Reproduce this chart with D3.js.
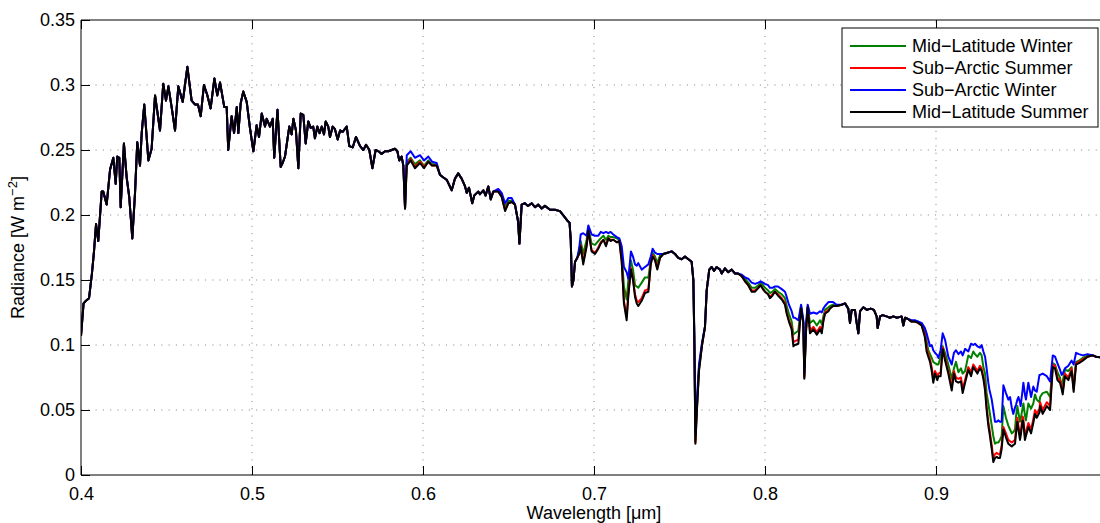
<!DOCTYPE html>
<html>
<head>
<meta charset="utf-8">
<script src="https://cdn.jsdelivr.net/npm/d3@7"></script>
<style>
  html, body { margin: 0; padding: 0; background: #fff; }
  svg { display: block; font-family: "Liberation Sans", Arial, Helvetica, sans-serif; }
</style>
</head>
<body>
<svg id="chart" width="1100" height="523"></svg>
<script>
// ---------- DATA ----------
const seriesNames = ["Mid\u2212Latitude Winter", "Sub\u2212Arctic Summer", "Sub\u2212Arctic Winter", "Mid\u2212Latitude Summer"];
const seriesColors = ["#008000", "#ff0000", "#0000ff", "#000000"];

const xTicks = [0.4, 0.5, 0.6, 0.7, 0.8, 0.9];
const xTickLabels = ["0.4", "0.5", "0.6", "0.7", "0.8", "0.9"];
const yTicks = [0, 0.05, 0.1, 0.15, 0.2, 0.25, 0.3, 0.35];
const yTickLabels = ["0", "0.05", "0.1", "0.15", "0.2", "0.25", "0.3", "0.35"];

// Segment A: wavelengths (µm) where all four atmospheres coincide
const wlA = [0.4000,0.4015,0.4029,0.4047,0.4064,0.4076,0.4088,0.4101,0.4121,0.4130,0.4150,0.4170,0.4189,0.4203,0.4212,0.4224,0.4232,0.4251,0.4267,0.4282,0.4300,0.4316,0.4329,0.4345,0.4355,0.4370,0.4394,0.4413,0.4433,0.4462,0.4481,0.4497,0.4511,0.4530,0.4550,0.4569,0.4595,0.4622,0.4647,0.4667,0.4684,0.4700,0.4719,0.4739,0.4758,0.4780,0.4797,0.4813,0.4838,0.4852,0.4861,0.4881,0.4895,0.4911,0.4920,0.4934,0.4949,0.4969,0.4988,0.5008,0.5027,0.5041,0.5057,0.5076,0.5086,0.5105,0.5121,0.5130,0.5149,0.5168,0.5179,0.5193,0.5218,0.5232,0.5242,0.5257,0.5271,0.5285,0.5300,0.5314,0.5329,0.5343,0.5358,0.5368,0.5382,0.5395,0.5408,0.5421,0.5431,0.5446,0.5456,0.5472,0.5485,0.5501,0.5515,0.5530,0.5554,0.5569,0.5589,0.5608,0.5632,0.5651,0.5667,0.5686,0.5704,0.5723,0.5740,0.5758,0.5778,0.5797,0.5817,0.5836,0.5850,0.5861,0.5875,0.5885,0.5895];
const radA = [0.107,0.132,0.134,0.136,0.155,0.172,0.193,0.180,0.218,0.218,0.208,0.235,0.244,0.224,0.245,0.244,0.206,0.255,0.229,0.214,0.182,0.217,0.256,0.238,0.263,0.285,0.242,0.251,0.292,0.265,0.301,0.288,0.299,0.283,0.265,0.299,0.287,0.314,0.288,0.285,0.285,0.276,0.300,0.292,0.282,0.305,0.292,0.302,0.283,0.283,0.250,0.276,0.263,0.283,0.263,0.286,0.295,0.287,0.267,0.249,0.269,0.260,0.278,0.268,0.274,0.268,0.274,0.244,0.281,0.237,0.240,0.245,0.268,0.262,0.274,0.265,0.236,0.278,0.277,0.255,0.272,0.267,0.268,0.259,0.268,0.263,0.268,0.262,0.272,0.268,0.260,0.268,0.266,0.258,0.265,0.264,0.268,0.253,0.252,0.260,0.253,0.250,0.254,0.250,0.236,0.250,0.249,0.247,0.249,0.249,0.250,0.251,0.249,0.242,0.245,0.238,0.205];

// Segment B: wavelengths (µm) where the atmospheres differ
const wlB = [0.5905,0.5928,0.5953,0.5982,0.6006,0.6031,0.6053,0.6080,0.6099,0.6117,0.6139,0.6168,0.6187,0.6206,0.6226,0.6246,0.6256,0.6269,0.6288,0.6300,0.6323,0.6333,0.6353,0.6366,0.6382,0.6396,0.6411,0.6440,0.6460,0.6480,0.6499,0.6519,0.6538,0.6556,0.6564,0.6577,0.6596,0.6614,0.6636,0.6655,0.6674,0.6694,0.6713,0.6743,0.6772,0.6801,0.6825,0.6842,0.6857,0.6864,0.6871,0.6880,0.6889,0.6902,0.6914,0.6922,0.6937,0.6957,0.6967,0.6986,0.7006,0.7025,0.7039,0.7055,0.7070,0.7084,0.7097,0.7113,0.7133,0.7148,0.7162,0.7175,0.7191,0.7201,0.7216,0.7228,0.7240,0.7250,0.7259,0.7279,0.7298,0.7318,0.7332,0.7343,0.7357,0.7370,0.7386,0.7405,0.7430,0.7454,0.7474,0.7493,0.7512,0.7532,0.7552,0.7571,0.7581,0.7587,0.7593,0.7602,0.7614,0.7632,0.7649,0.7659,0.7674,0.7688,0.7702,0.7717,0.7737,0.7747,0.7766,0.7784,0.7805,0.7825,0.7842,0.7864,0.7883,0.7902,0.7922,0.7942,0.7961,0.7975,0.7988,0.8000,0.8018,0.8029,0.8044,0.8058,0.8076,0.8098,0.8117,0.8127,0.8140,0.8156,0.8166,0.8175,0.8195,0.8211,0.8224,0.8230,0.8240,0.8250,0.8263,0.8283,0.8303,0.8322,0.8332,0.8341,0.8351,0.8371,0.8380,0.8398,0.8419,0.8448,0.8468,0.8487,0.8497,0.8507,0.8526,0.8536,0.8546,0.8556,0.8575,0.8596,0.8618,0.8637,0.8653,0.8659,0.8673,0.8688,0.8711,0.8731,0.8750,0.8772,0.8799,0.8809,0.8819,0.8836,0.8857,0.8877,0.8896,0.8916,0.8935,0.8945,0.8955,0.8965,0.8975,0.8984,0.8994,0.9008,0.9014,0.9027,0.9039,0.9053,0.9072,0.9092,0.9105,0.9117,0.9131,0.9146,0.9156,0.9170,0.9189,0.9205,0.9218,0.9228,0.9242,0.9257,0.9267,0.9277,0.9287,0.9296,0.9306,0.9312,0.9326,0.9335,0.9345,0.9355,0.9365,0.9374,0.9384,0.9394,0.9409,0.9423,0.9433,0.9443,0.9452,0.9462,0.9468,0.9476,0.9482,0.9491,0.9495,0.9507,0.9511,0.9520,0.9526,0.9540,0.9556,0.9569,0.9579,0.9589,0.9605,0.9609,0.9624,0.9648,0.9667,0.9683,0.9696,0.9710,0.9725,0.9735,0.9741,0.9754,0.9774,0.9793,0.9805,0.9819,0.9836,0.9858,0.9887,0.9917,0.9936,0.9995];

const mlsB = [0.238,0.242,0.236,0.240,0.236,0.241,0.238,0.238,0.231,0.229,0.227,0.219,0.228,0.232,0.228,0.222,0.217,0.221,0.209,0.215,0.218,0.216,0.219,0.215,0.222,0.212,0.218,0.218,0.214,0.203,0.209,0.210,0.208,0.195,0.178,0.208,0.209,0.207,0.209,0.206,0.208,0.205,0.207,0.204,0.204,0.203,0.199,0.196,0.194,0.181,0.145,0.150,0.164,0.167,0.170,0.176,0.162,0.176,0.188,0.172,0.170,0.174,0.178,0.181,0.176,0.182,0.180,0.181,0.179,0.180,0.164,0.132,0.119,0.138,0.158,0.150,0.137,0.132,0.130,0.134,0.140,0.141,0.162,0.168,0.165,0.158,0.167,0.170,0.171,0.172,0.170,0.167,0.166,0.168,0.166,0.164,0.150,0.100,0.024,0.050,0.080,0.100,0.114,0.142,0.158,0.160,0.157,0.160,0.158,0.155,0.159,0.156,0.158,0.155,0.155,0.153,0.149,0.146,0.141,0.141,0.144,0.146,0.143,0.141,0.139,0.136,0.138,0.141,0.138,0.135,0.131,0.124,0.118,0.112,0.099,0.100,0.101,0.128,0.117,0.074,0.110,0.129,0.109,0.112,0.108,0.112,0.109,0.118,0.124,0.126,0.128,0.130,0.130,0.131,0.132,0.128,0.117,0.127,0.127,0.117,0.109,0.126,0.129,0.127,0.128,0.127,0.122,0.113,0.122,0.123,0.122,0.121,0.122,0.121,0.122,0.115,0.121,0.120,0.118,0.118,0.117,0.115,0.106,0.095,0.091,0.087,0.080,0.071,0.078,0.073,0.076,0.076,0.097,0.088,0.078,0.065,0.078,0.072,0.071,0.072,0.063,0.071,0.081,0.076,0.083,0.081,0.078,0.082,0.080,0.074,0.065,0.050,0.038,0.033,0.020,0.010,0.013,0.014,0.013,0.013,0.020,0.035,0.029,0.024,0.023,0.022,0.023,0.024,0.032,0.041,0.035,0.027,0.030,0.042,0.040,0.027,0.030,0.037,0.032,0.040,0.047,0.044,0.048,0.053,0.047,0.053,0.050,0.083,0.082,0.073,0.071,0.066,0.062,0.076,0.073,0.080,0.064,0.085,0.086,0.088,0.091,0.092,0.091,0.090];

const sasB = [0.239,0.243,0.237,0.241,0.237,0.241,0.238,0.238,0.231,0.229,0.227,0.219,0.228,0.232,0.228,0.222,0.217,0.221,0.209,0.215,0.218,0.216,0.219,0.215,0.222,0.212,0.218,0.218,0.214,0.204,0.209,0.210,0.208,0.195,0.178,0.208,0.209,0.207,0.209,0.206,0.208,0.205,0.207,0.204,0.204,0.203,0.199,0.196,0.194,0.181,0.145,0.150,0.164,0.167,0.171,0.177,0.164,0.177,0.188,0.173,0.171,0.175,0.179,0.181,0.177,0.182,0.181,0.181,0.179,0.180,0.165,0.134,0.122,0.140,0.159,0.151,0.139,0.134,0.133,0.136,0.142,0.143,0.163,0.169,0.166,0.159,0.167,0.170,0.171,0.172,0.170,0.167,0.166,0.168,0.166,0.164,0.150,0.101,0.025,0.051,0.081,0.100,0.114,0.142,0.158,0.160,0.157,0.160,0.158,0.155,0.159,0.156,0.158,0.155,0.155,0.153,0.149,0.146,0.142,0.142,0.144,0.146,0.143,0.141,0.139,0.137,0.139,0.141,0.139,0.136,0.132,0.125,0.119,0.114,0.102,0.103,0.104,0.128,0.117,0.075,0.111,0.129,0.111,0.114,0.110,0.114,0.111,0.119,0.125,0.127,0.128,0.130,0.130,0.131,0.132,0.128,0.117,0.127,0.127,0.117,0.109,0.126,0.129,0.127,0.128,0.127,0.122,0.113,0.122,0.123,0.122,0.121,0.122,0.121,0.122,0.115,0.121,0.120,0.118,0.118,0.117,0.115,0.108,0.098,0.093,0.089,0.083,0.074,0.080,0.076,0.078,0.079,0.098,0.090,0.080,0.068,0.080,0.075,0.074,0.075,0.066,0.073,0.083,0.079,0.085,0.083,0.080,0.084,0.082,0.076,0.068,0.053,0.041,0.036,0.023,0.013,0.016,0.017,0.016,0.016,0.023,0.037,0.032,0.027,0.026,0.025,0.026,0.027,0.035,0.044,0.038,0.030,0.033,0.045,0.043,0.030,0.033,0.040,0.035,0.043,0.050,0.047,0.051,0.056,0.050,0.056,0.053,0.085,0.084,0.075,0.073,0.068,0.064,0.078,0.075,0.082,0.066,0.086,0.087,0.089,0.091,0.092,0.091,0.090];

const mlwB = [0.241,0.244,0.239,0.242,0.238,0.242,0.239,0.239,0.231,0.229,0.227,0.219,0.228,0.232,0.228,0.222,0.217,0.221,0.209,0.215,0.218,0.216,0.219,0.215,0.222,0.212,0.218,0.219,0.215,0.206,0.211,0.211,0.208,0.195,0.178,0.208,0.209,0.207,0.209,0.206,0.208,0.205,0.207,0.204,0.204,0.203,0.199,0.196,0.194,0.181,0.145,0.150,0.164,0.167,0.172,0.180,0.170,0.181,0.190,0.178,0.177,0.180,0.182,0.184,0.181,0.184,0.183,0.183,0.182,0.181,0.170,0.145,0.135,0.150,0.165,0.158,0.146,0.145,0.144,0.148,0.152,0.152,0.165,0.171,0.168,0.163,0.169,0.170,0.171,0.172,0.170,0.167,0.166,0.168,0.166,0.164,0.150,0.103,0.027,0.053,0.082,0.101,0.114,0.142,0.158,0.160,0.157,0.160,0.158,0.155,0.159,0.156,0.158,0.155,0.155,0.153,0.151,0.148,0.144,0.144,0.146,0.148,0.146,0.144,0.142,0.140,0.141,0.143,0.141,0.139,0.136,0.130,0.124,0.118,0.108,0.109,0.111,0.130,0.118,0.076,0.113,0.130,0.117,0.119,0.115,0.119,0.116,0.122,0.127,0.129,0.130,0.131,0.130,0.131,0.132,0.128,0.117,0.127,0.127,0.117,0.109,0.126,0.129,0.127,0.128,0.127,0.122,0.113,0.122,0.123,0.122,0.121,0.122,0.121,0.122,0.115,0.121,0.120,0.118,0.118,0.118,0.116,0.110,0.103,0.096,0.093,0.090,0.087,0.086,0.085,0.085,0.091,0.099,0.094,0.085,0.074,0.082,0.087,0.079,0.082,0.078,0.080,0.092,0.090,0.095,0.093,0.091,0.094,0.092,0.083,0.078,0.063,0.055,0.050,0.038,0.030,0.024,0.025,0.025,0.027,0.030,0.053,0.044,0.038,0.035,0.032,0.033,0.035,0.045,0.053,0.048,0.041,0.043,0.052,0.055,0.046,0.042,0.055,0.051,0.055,0.062,0.058,0.056,0.060,0.063,0.064,0.060,0.086,0.085,0.079,0.075,0.068,0.072,0.081,0.080,0.083,0.068,0.087,0.088,0.090,0.092,0.092,0.091,0.090];

const sawB = [0.246,0.249,0.244,0.246,0.242,0.245,0.241,0.240,0.231,0.229,0.227,0.219,0.228,0.232,0.228,0.222,0.217,0.221,0.209,0.215,0.218,0.216,0.219,0.215,0.222,0.212,0.218,0.220,0.217,0.209,0.213,0.213,0.208,0.195,0.178,0.208,0.209,0.207,0.209,0.206,0.208,0.205,0.207,0.204,0.204,0.203,0.199,0.196,0.194,0.181,0.145,0.150,0.164,0.167,0.175,0.185,0.186,0.184,0.192,0.185,0.184,0.184,0.187,0.186,0.187,0.186,0.187,0.185,0.183,0.182,0.176,0.160,0.156,0.151,0.172,0.168,0.162,0.161,0.163,0.158,0.160,0.162,0.168,0.174,0.171,0.170,0.170,0.170,0.171,0.172,0.170,0.167,0.166,0.168,0.166,0.164,0.150,0.108,0.032,0.058,0.085,0.102,0.114,0.142,0.158,0.160,0.157,0.160,0.158,0.155,0.159,0.156,0.158,0.155,0.155,0.154,0.152,0.151,0.148,0.147,0.148,0.149,0.148,0.147,0.146,0.144,0.144,0.145,0.145,0.143,0.141,0.137,0.131,0.126,0.121,0.121,0.119,0.131,0.119,0.078,0.117,0.131,0.124,0.125,0.124,0.126,0.125,0.128,0.130,0.133,0.133,0.133,0.131,0.131,0.132,0.128,0.117,0.127,0.127,0.117,0.109,0.126,0.129,0.127,0.128,0.127,0.122,0.113,0.122,0.123,0.122,0.121,0.122,0.121,0.122,0.115,0.121,0.120,0.119,0.119,0.118,0.117,0.113,0.109,0.104,0.099,0.100,0.096,0.094,0.092,0.090,0.096,0.109,0.104,0.091,0.085,0.094,0.096,0.093,0.095,0.092,0.097,0.095,0.101,0.100,0.101,0.099,0.098,0.100,0.095,0.091,0.082,0.071,0.066,0.058,0.050,0.041,0.041,0.042,0.041,0.041,0.069,0.063,0.058,0.060,0.052,0.047,0.052,0.054,0.058,0.060,0.056,0.053,0.066,0.071,0.062,0.058,0.071,0.060,0.068,0.065,0.064,0.077,0.077,0.078,0.076,0.072,0.092,0.091,0.086,0.081,0.077,0.078,0.082,0.084,0.088,0.085,0.094,0.093,0.092,0.093,0.092,0.091,0.090];

// ---------- CHART ----------
const W = 1100, H = 523;
const svg = d3.select("#chart");
const x = d3.scaleLinear().domain([0.4, 1.0]).range([81, 1107]);
const y = d3.scaleLinear().domain([0, 0.35]).range([475, 20]);
const FS = 18;

const seriesB = [mlwB, sasB, sawB, mlsB];
const series = seriesNames.map((name, i) => ({
  name, color: seriesColors[i],
  points: wlA.map((w, j) => [w, radA[j]]).concat(wlB.map((w, j) => [w, seriesB[i][j]]))
}));

// grid (dotted)
const grid = svg.append("g");
grid.selectAll("line.vg").data(xTicks.slice(1)).join("line")
  .attr("x1", d => x(d)).attr("x2", d => x(d))
  .attr("y1", y(0)).attr("y2", y(0.35))
  .attr("stroke", "#000").attr("stroke-opacity", 0.5)
  .attr("stroke-width", 1).attr("stroke-dasharray", "1,6.3");
grid.selectAll("line.hg").data(yTicks.slice(1, -1)).join("line")
  .attr("x1", x(0.4)).attr("x2", W)
  .attr("y1", d => y(d)).attr("y2", d => y(d))
  .attr("stroke", "#000").attr("stroke-opacity", 0.5)
  .attr("stroke-width", 1).attr("stroke-dasharray", "1,6.3");

// lines
const line = d3.line().x(d => x(d[0])).y(d => y(d[1]));
svg.append("defs").append("clipPath").attr("id", "clip")
  .append("rect").attr("x", x(0.4)).attr("y", y(0.35)).attr("width", W - x(0.4)).attr("height", y(0) - y(0.35));
const lg = svg.append("g").attr("clip-path", "url(#clip)");
series.forEach(s => {
  lg.append("path").datum(s.points)
    .attr("fill", "none").attr("stroke", s.color)
    .attr("stroke-width", 2).attr("stroke-linejoin", "round")
    .attr("d", line);
});

// axes
const xAxis = d3.axisBottom(x).tickValues(xTicks).tickFormat((d, i) => xTickLabels[i]).tickSize(-9).tickPadding(12);
const yAxis = d3.axisLeft(y).tickValues(yTicks).tickFormat((d, i) => yTickLabels[i]).tickSize(-9).tickPadding(6);
const gx = svg.append("g").attr("transform", `translate(0,${y(0)})`).call(xAxis);
const gy = svg.append("g").attr("transform", `translate(${x(0.4)},0)`).call(yAxis);
const gxt = svg.append("g").attr("transform", `translate(0,${y(0.35)})`).call(d3.axisTop(x).tickValues(xTicks).tickFormat("").tickSize(-9));
[gx, gy, gxt].forEach(g => {
  g.selectAll("path.domain").attr("stroke", "#000").attr("stroke-width", 1);
  g.selectAll(".tick line").attr("stroke", "#000").attr("stroke-width", 1);
  g.selectAll("text").attr("font-size", FS).attr("fill", "#000")
    .attr("font-family", "'Liberation Sans', Arial, sans-serif");
});
gxt.select("path.domain").attr("d", `M${x(0.4)},0H${x(1.0)}`);
gx.select("path.domain").attr("d", `M${x(0.4)},0H${x(1.0)}`);
gy.select("path.domain").attr("d", `M0,${y(0)}V${y(0.35)}`);

// axis labels
svg.append("text").attr("x", (x(0.4) + x(1.0)) / 2).attr("y", 519)
  .attr("text-anchor", "middle").attr("font-size", FS).text("Wavelength [\u03bcm]");
const yl = svg.append("text").attr("transform", `translate(24,${(y(0) + y(0.35)) / 2}) rotate(-90)`)
  .attr("text-anchor", "middle").attr("font-size", FS);
yl.append("tspan").text("Radiance [W m");
yl.append("tspan").attr("dy", -7).attr("font-size", 13).text("\u22122");
yl.append("tspan").attr("dy", 7).text("]");

// legend
const leg = svg.append("g");
const lx0 = 842, ly0 = 28, lw = 256, lh = 99;
leg.append("rect").attr("x", lx0).attr("y", ly0).attr("width", lw).attr("height", lh)
  .attr("fill", "#fff").attr("stroke", "#000").attr("stroke-width", 1);
const rowY = d3.scaleLinear().domain([0, 3]).range([46, 112]);
series.forEach((s, i) => {
  leg.append("line").attr("x1", 850).attr("x2", 906)
    .attr("y1", rowY(i)).attr("y2", rowY(i))
    .attr("stroke", s.color).attr("stroke-width", 2);
  leg.append("text").attr("x", 912).attr("y", rowY(i)).attr("dy", "0.35em")
    .attr("font-size", FS).text(s.name);
});
</script>
</body>
</html>
